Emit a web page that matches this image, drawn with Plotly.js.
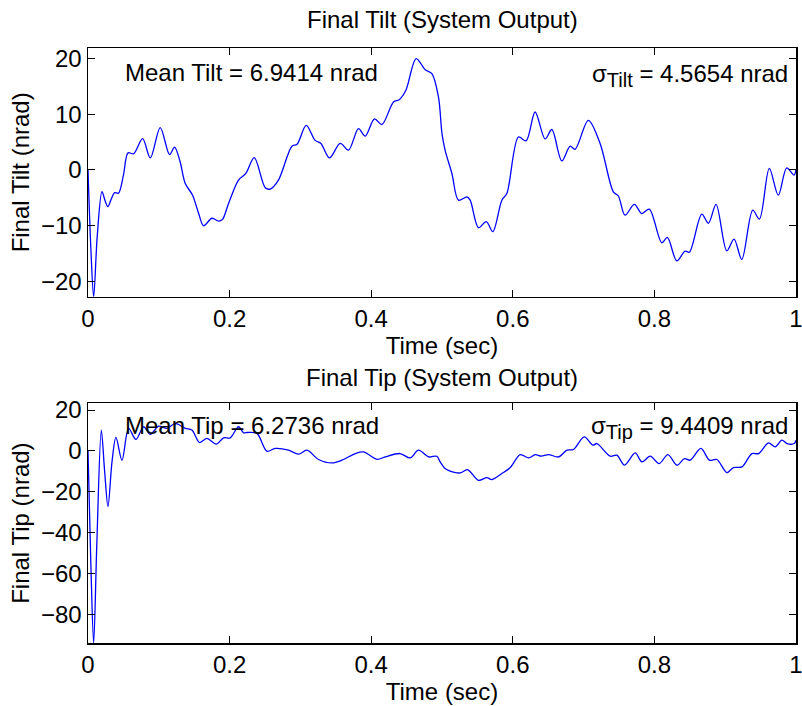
<!DOCTYPE html>
<html>
<head>
<meta charset="utf-8">
<script src="https://cdn.plot.ly/plotly-3.0.1.min.js"></script>
<style>html,body{margin:0;padding:0;background:#fff;}#chart{width:802px;height:706px;}</style>
</head>
<body>
<div id="chart"></div>
<script>
// Final Tilt (System Output)
const tTilt = [0, 0.004, 0.008, 0.013, 0.0197, 0.024, 0.028, 0.033, 0.0376, 0.043, 0.05, 0.0565, 0.0644, 0.0771, 0.088, 0.102, 0.1152, 0.1223, 0.13, 0.1374, 0.1477, 0.1562, 0.1632, 0.175, 0.1844, 0.190, 0.1985, 0.2126, 0.223, 0.2348, 0.2503, 0.2574, 0.269, 0.288, 0.2953, 0.3082, 0.3209, 0.329, 0.3411, 0.3562, 0.368, 0.382, 0.3915, 0.4046, 0.4151, 0.4315, 0.4395, 0.449, 0.4635, 0.4762, 0.4857, 0.495, 0.5, 0.5044, 0.514, 0.5233, 0.5352, 0.5398, 0.5516, 0.5625, 0.5718, 0.5845, 0.5916, 0.608, 0.6188, 0.6315, 0.6457, 0.6551, 0.6692, 0.681, 0.688, 0.7067, 0.7233, 0.742, 0.7491, 0.7585, 0.7717, 0.7821, 0.7928, 0.8104, 0.8183, 0.8316, 0.8433, 0.8494, 0.8669, 0.8763, 0.8871, 0.9022, 0.9125, 0.9234, 0.9389, 0.9483, 0.9623, 0.975, 0.9869, 0.9972, 1.0];
const vTilt = [0, -14, -22.8, -12, -3.9, -5.5, -6.6, -5.2, -4.1, -4.2, -1, 3.05, 2.9, 5.6, 2.15, 7.6, 2.75, 4.1, 1.5, -2.45, -4.55, -7.8, -10.05, -8.7, -9.2, -8.9, -6.05, -1.85, -0.65, 2.2, -3.2, -3.45, -1.85, 4.25, 4.6, 8.0, 5.3, 4.75, 2.15, 4.75, 3.55, 7.4, 6.05, 9.15, 8.15, 12.2, 12.6, 14.3, 20.0, 18.0, 17.3, 13.1, 6.5, 3.5, -0.65, -5.45, -4.85, -5.45, -10.4, -9.3, -11.1, -5.45, -4.25, 5.9, 5.2, 10.4, 5.55, 7.25, 1.6, 4.25, 3.7, 8.9, 4.75, -3.95, -4.7, -8.15, -6.2, -7.85, -7.05, -13.1, -12.15, -16.35, -14.6, -14.8, -7.95, -9.6, -6.2, -14.55, -12.45, -16.1, -7.25, -8.85, 0.25, -4.55, 0.35, -0.95, 0];

// Final Tip (System Output)
const tTip = [0, 0.004, 0.008, 0.0125, 0.0188, 0.0235, 0.0282, 0.034, 0.0395, 0.048, 0.0574, 0.0677, 0.0785, 0.088, 0.0997, 0.1115, 0.1233, 0.1374, 0.1468, 0.1576, 0.168, 0.1811, 0.1915, 0.2009, 0.2126, 0.2197, 0.225, 0.2386, 0.2527, 0.2644, 0.2833, 0.2974, 0.3092, 0.3256, 0.3445, 0.3586, 0.3774, 0.3891, 0.408, 0.4197, 0.4409, 0.455, 0.4668, 0.481, 0.4928, 0.4974, 0.5035, 0.509, 0.5256, 0.536, 0.5516, 0.5634, 0.5705, 0.5846, 0.5964, 0.6105, 0.6223, 0.6317, 0.64, 0.6505, 0.6647, 0.6765, 0.6858, 0.7009, 0.7132, 0.7188, 0.7376, 0.747, 0.7578, 0.7729, 0.7823, 0.7941, 0.8068, 0.8191, 0.8318, 0.8425, 0.8506, 0.8657, 0.8778, 0.8882, 0.9024, 0.9117, 0.9236, 0.9377, 0.9471, 0.9612, 0.9707, 0.9801, 0.9872, 0.9975, 1.0];
const vTip = [0, -55, -94, -45, 10.2, -10, -27.2, -5, 6.6, -4.6, 11.0, 5.6, 11.8, 8.05, 12.1, 11.0, 13.45, 11.0, 10.2, 4.1, 6.1, 3.3, 6.4, 6.4, 11.8, 8.85, 9.0, 8.55, -0.15, 1.2, 0.35, -1.6, 0.35, -4.2, -5.9, -4.55, -1.3, -0.5, -4.1, -2.95, -1.3, -3.45, 0.35, -2.95, -2.6, -5.4, -8.35, -9.5, -10.8, -9.15, -14.4, -13.1, -14.05, -11.1, -8.15, -1.8, -3.45, -1.8, -2.6, -1.8, -2.95, 0.35, 0.7, 6.9, 2.8, 3.6, -2.6, -2.1, -7.0, -1.0, -5.4, -2.6, -6.2, -1.8, -7.0, -3.75, -4.55, 1.2, -4.55, -4.2, -10.6, -8.15, -7.85, -1.3, -1.3, 3.95, 1.95, 5.25, 3.6, 3.6, 5.25];

const xTicks = [0, 0.2, 0.4, 0.6, 0.8, 1];
const xTickText = ['0', '0.2', '0.4', '0.6', '0.8', '1'];
const tiltTicks = [-20, -10, 0, 10, 20];
const tipTicks = [-80, -60, -40, -20, 0, 20];

const FONT = 'Liberation Sans, Arial, Helvetica, sans-serif';
const lineStyle = {color: '#0000ff', width: 1.3, shape: 'spline', smoothing: 0.9};

const traces = [
  {x: tTilt, y: vTilt, type: 'scatter', mode: 'lines', line: lineStyle, xaxis: 'x', yaxis: 'y', hoverinfo: 'skip', cliponaxis: true},
  {x: tTip, y: vTip, type: 'scatter', mode: 'lines', line: lineStyle, xaxis: 'x2', yaxis: 'y2', hoverinfo: 'skip', cliponaxis: true}
];

const axBase = {
  showgrid: false, zeroline: false, showline: true, mirror: 'ticks',
  linecolor: '#000', linewidth: 1.5, ticks: 'inside', ticklen: 7, tickcolor: '#000',
  ticklabeloverflow: 'allow',
  tickfont: {family: FONT, size: 24, color: '#000'}
};

const subStyle = 'font-size:20px';

const layout = {
  width: 802, height: 706,
  margin: {l: 88, r: 6, t: 48, b: 63},
  paper_bgcolor: '#fff', plot_bgcolor: '#fff',
  showlegend: false,
  font: {family: FONT, size: 24, color: '#000'},
  xaxis: Object.assign({}, axBase, {domain: [0, 1], range: [0, 1.0000001], anchor: 'y', tickvals: xTicks, ticktext: xTickText,
    title: {text: 'Time (sec)', font: {family: FONT, size: 24, color: '#000'}, standoff: 2}}),
  yaxis: Object.assign({}, axBase, {domain: [0.582, 1], range: [-22.8, 21.9], anchor: 'x', tickvals: tiltTicks,
    title: {text: 'Final Tilt (nrad)', font: {family: FONT, size: 24, color: '#000'}, standoff: 4}}),
  xaxis2: Object.assign({}, axBase, {domain: [0, 1], range: [0, 1.0000001], anchor: 'y2', tickvals: xTicks, ticktext: xTickText,
    title: {text: 'Time (sec)', font: {family: FONT, size: 24, color: '#000'}, standoff: 2}}),
  yaxis2: Object.assign({}, axBase, {domain: [0, 0.4029], range: [-94, 23.3], anchor: 'x2', tickvals: tipTicks,
    title: {text: 'Final Tip (nrad)', font: {family: FONT, size: 24, color: '#000'}, standoff: 4}}),
  annotations: [
    {text: 'Final Tilt (System Output)', xref: 'paper', yref: 'paper', x: 0.5, y: 1.0487, xanchor: 'center', yanchor: 'middle', showarrow: false, font: {family: FONT, size: 24, color: '#000'}},
    {text: 'Final Tip (System Output)', xref: 'paper', yref: 'paper', x: 0.5, y: 0.447, xanchor: 'center', yanchor: 'middle', showarrow: false, font: {family: FONT, size: 24, color: '#000'}},
    {text: 'Mean Tilt = 6.9414 nrad', xref: 'x', yref: 'y', x: 0.05, y: 17.5, xanchor: 'left', yanchor: 'middle', showarrow: false, font: {family: FONT, size: 24, color: '#000'}},
    {text: 'σ<sub><span style="' + subStyle + '">Tilt</span></sub> = 4.5654 nrad', xref: 'x', yref: 'y', x: 0.991, y: 17.0, xanchor: 'right', yanchor: 'middle', showarrow: false, font: {family: FONT, size: 24, color: '#000'}},
    {text: 'Mean Tip = 6.2736 nrad', xref: 'x2', yref: 'y2', x: 0.05, y: 12.6, xanchor: 'left', yanchor: 'middle', showarrow: false, font: {family: FONT, size: 24, color: '#000'}},
    {text: 'σ<sub><span style="' + subStyle + '">Tip</span></sub> = 9.4409 nrad', xref: 'x2', yref: 'y2', x: 0.991, y: 11.5, xanchor: 'right', yanchor: 'middle', showarrow: false, font: {family: FONT, size: 24, color: '#000'}}
  ]
};

Plotly.newPlot('chart', traces, layout, {staticPlot: true, displayModeBar: false});
</script>
</body>
</html>
